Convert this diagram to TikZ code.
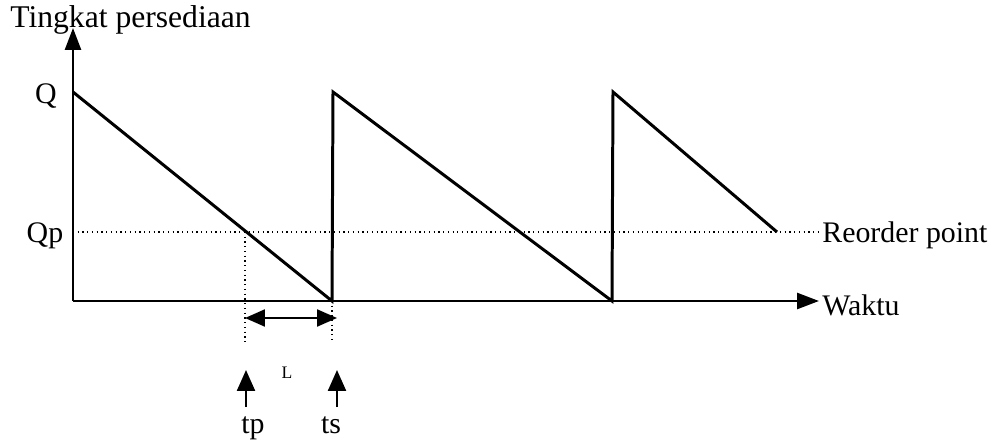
\documentclass[tikz,border=0pt]{standalone}
\usepackage{fontspec}
\setmainfont{Liberation Serif}
\usepackage{tikz}
\usetikzlibrary{arrows.meta, positioning, calc}

\begin{document}
\begin{tikzpicture}[
  x=0.02cm, y=-0.02cm,
  font=\fontsize{17}{20}\selectfont,
  axis/.style={line width=1.5pt, -{Triangle[length=4.4mm, width=3.2mm]}},
  saw/.style={line width=1.7pt, line join=miter},
  guide/.style={line width=0.7pt, dotted},
  span/.style={line width=1.3pt, {Triangle[length=4mm, width=3.4mm]}-{Triangle[length=4mm, width=3.4mm]}},
  mark up/.style={line width=1.3pt, -{Triangle[length=4.2mm, width=3.6mm]}},
  lab/.style={inner sep=0pt}]
  \useasboundingbox (0,0) rectangle (994,442);
  % axes
  \coordinate (o) at (73,301);
  \coordinate (ytop) at (73,28);
  \coordinate (xend) at (819,301);
  \draw[axis] (o) -- (ytop);
  \draw[axis] (o) -- (xend);
  \node[lab, anchor=base west, font=\fontsize{18}{20}\selectfont] (ylab) at (10,28) {Tingkat persediaan};
  \node[lab, anchor=west] (xlab) at (822,305) {Waktu};
  % levels
  \node[lab, anchor=base] (q) at (46,104) {Q};
  \node[lab, anchor=base] (qp) at (45,243) {Qp};
  \node[lab, anchor=base west] (rop) at (822,243) {Reorder point};
  \coordinate (qp0) at (73,232);
  \draw[guide] (qp0) -- (rop.west |- qp0);
  % stock level
  \coordinate (p0) at (73,92);
  \coordinate (b1) at (332,301);
  \coordinate (p1) at (333,92);
  \coordinate (b2) at (612,301);
  \coordinate (p2) at (613,92);
  \coordinate (e2) at (777,232);
  \draw[saw] (p0) -- (b1) -- (p1) -- (b2) -- (p2) -- (e2);
  % lead time
  \coordinate (tp0) at (245,232);
  \coordinate (tp1) at (245,343);
  \coordinate (ts1) at (332,343);
  \draw[guide] (tp0) -- (tp1);
  \draw[guide] (b1) -- (ts1);
  \coordinate (la) at (245,318);
  \coordinate (lb) at (337,318);
  \draw[span] (la) -- (lb);
  \node[lab, font=\fontsize{10}{12}\selectfont] (l) at (287,373) {L};
  \node[lab, anchor=base] (tp) at (253,433) {tp};
  \node[lab, anchor=base] (ts) at (331,433) {ts};
  \coordinate (tpa) at (246,407);
  \coordinate (tpb) at (246,370);
  \coordinate (tsa) at (337,407);
  \coordinate (tsb) at (337,370);
  \draw[mark up] (tpa) -- (tpb);
  \draw[mark up] (tsa) -- (tsb);
\end{tikzpicture}
\end{document}
